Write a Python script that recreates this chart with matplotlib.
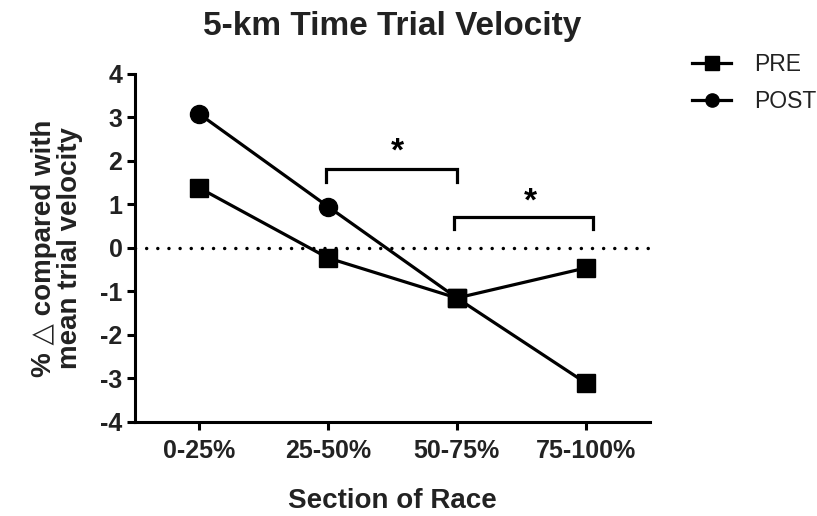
import matplotlib
matplotlib.use("Agg")
import matplotlib.pyplot as plt
from matplotlib.lines import Line2D

plt.rcParams['font.family'] = ['Liberation Sans', 'DejaVu Sans']

sections = ["0-25%", "25-50%", "50-75%", "75-100%"]
pre = [1.38, -0.23, -1.15, -0.46]
post = [3.08, 0.95, -1.15, -3.1]
post_markers = ["o", "o", "s", "s"]
yticks = [-4, -3, -2, -1, 0, 1, 2, 3, 4]
# significance brackets: (x_start, x_end, y_bar, y_leg_end, y_star)
brackets = [(0.98, 2.0, 1.82, 1.52, 2.2), (1.98, 3.06, 0.72, 0.44, 1.05)]

fig = plt.figure(figsize=(8.17, 5.16), dpi=100)
ax = fig.add_axes([0.1652, 0.1822, 0.6304, 0.6744])

x = list(range(len(sections)))
lw = 2.3
ax.axhline(0, color='black', lw=2.5, linestyle=(0, (0.01, 3.2)), dash_capstyle='round', zorder=1)
ax.plot(x, pre, color='black', lw=lw, marker='s', markersize=12.5, zorder=3)
ax.plot(x, post, color='black', lw=lw, zorder=3)
for xi, yi, m in zip(x, post, post_markers):
    ax.plot([xi], [yi], marker=m, color='black', markersize=12.5 if m == 's' else 13, zorder=4)

for x0, x1, yb, yl, ys in brackets:
    ax.plot([x0, x0, x1, x1], [yl, yb, yb, yl], color='black', lw=2.3, solid_joinstyle='miter', clip_on=False)
    ax.text((x0 + x1) / 2 + 0.05, ys, "*", ha='center', va='center', fontsize=24, fontweight='bold')

ax.set_xlim(-0.5, 3.5)
ax.set_ylim(-4, 4)
ax.set_xticks(x)
ax.set_xticklabels(sections, fontsize=18, fontweight='bold', color='#222222')
ax.set_yticks(yticks)
ax.set_yticklabels([str(v) for v in yticks], fontsize=18, fontweight='bold', color='#222222')
for s in ['top', 'right']:
    ax.spines[s].set_visible(False)
for s in ['left', 'bottom']:
    ax.spines[s].set_linewidth(2.2)
ax.tick_params(axis='both', width=2.2, length=6, pad=3)
ax.tick_params(axis='x', pad=6)

ax.set_xlabel("Section of Race", fontsize=20, fontweight='bold', color='#222222', labelpad=18)
ax.set_ylabel("% \u25b3 compared with\nmean trial velocity", fontsize=20, fontweight='bold',
              color='#222222', labelpad=12, linespacing=1.0)
fig.text(0.48, 0.948, "5-km Time Trial Velocity", ha='center', va='center', fontsize=24,
         fontweight='bold', color='#222222')

handles = [Line2D([], [], color='black', lw=lw, marker='s', markersize=9.5),
           Line2D([], [], color='black', lw=lw, marker='o', markersize=9.5)]
leg = fig.legend(handles, ["PRE", "POST"], loc='upper left', bbox_to_anchor=(0.822, 0.937),
                 frameon=False, fontsize=16.5, handlelength=1.7, handletextpad=1.0, labelspacing=0.6)
for t in leg.get_texts():
    t.set_color('#222222')

fig.savefig("out.png", dpi=100)
